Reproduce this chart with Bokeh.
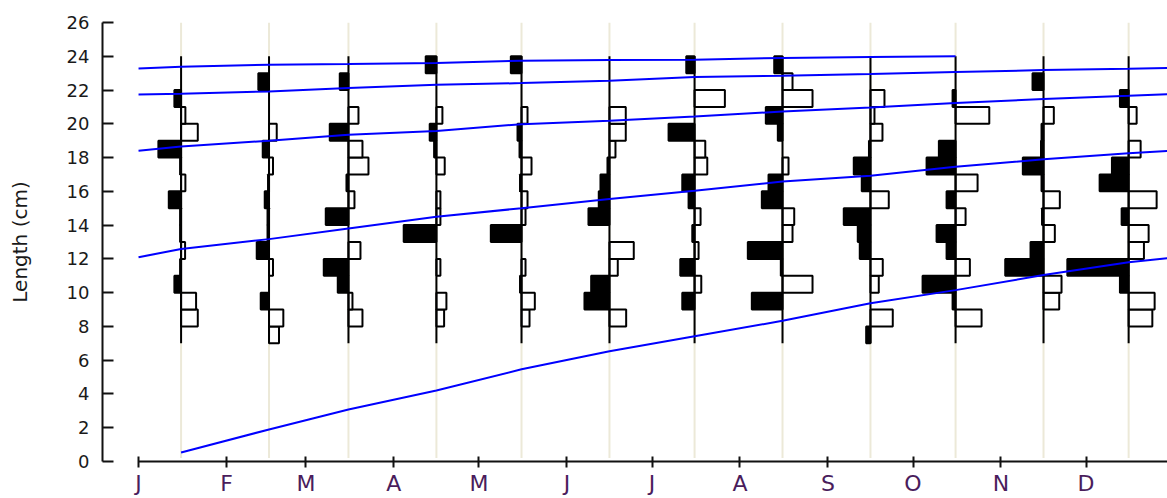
from bokeh.plotting import figure
from bokeh.models import FixedTicker, Range1d
from bokeh.embed import file_html
from bokeh.resources import INLINE

# ---------------- data ----------------
month_labels = ["J", "F", "M", "A", "M", "J", "J", "A", "S", "O", "N", "D"]
month_start_days = [0, 31, 59, 90, 120, 151, 181, 212, 243, 273, 304, 334]
sample_days = [15, 46, 74, 105, 135, 166, 196, 227, 258, 288, 319, 349]
length_ticks = list(range(0, 27, 2))
bin_lower = list(range(7, 24))          # 1-cm classes 7-8 ... 23-24

# restructured frequency scores per sample, classes from 7-8 up to 23-24
score_jan = [0, 1.67, 1.5, -0.67, -0.1, 0.4, -0.1, -0.1, -1.23, 0.43, -0.1, -2.27, 1.67, 0.43, -0.67, 0, 0]
score_feb = [1.0, 1.43, -0.83, 0, 0.4, -1.23, -0.15, -0.15, -0.43, -0.1, 0.4, -0.63, 0.77, 0, 0, -1.07, 0]
score_mar = [0, 1.4, 0.4, -1.07, -2.47, 1.2, 0, -2.27, 0.6, -0.2, 2.0, 1.4, -1.87, 1.0, 0, -0.87, 0]
score_apr = [0, 0.77, 1.0, 0, 0.4, 0, -3.27, 0.4, 0.4, 0, 0.83, -0.23, -0.67, 0.6, 0, 0, -1.07]
score_may = [0, 0.8, 1.33, -0.15, 0.4, 0, -3.07, 0.4, 0.6, -0.15, 1.0, -0.2, -0.4, 0.6, 0, 0, -1.07]
score_jun = [0, 1.67, -2.5, -1.83, 0.83, 2.43, 0, -2.1, -1.07, -0.9, -0.2, 0.6, 1.63, 1.63, 0, 0, 0]
score_jul = [0, 0, -1.23, 0.67, -1.43, 0.4, -0.23, 0.6, -0.6, -1.23, 1.27, 1.07, -2.6, 0, 3.03, 0, -0.83]
score_aug = [0, 0, -3.07, 3.0, -0.17, -3.47, 1.0, 1.17, -2.07, -1.4, 0.6, 0, -0.47, -1.67, 3.0, 1.0, -0.83]
score_sep = [-0.43, 2.23, 0, 0.83, 1.23, -1.07, -1.27, -2.67, 1.83, -0.87, -1.67, -0.15, 1.2, 0.4, 1.4, 0, 0]
score_oct = [0, 2.6, -0.3, -3.3, 1.43, -0.9, -1.9, 1.0, -0.9, 2.2, -2.9, -1.67, 0, 3.37, -0.3, 0, 0]
score_nov = [0, 0, 1.57, 1.8, -3.83, -1.3, 1.13, -0.15, 1.63, -0.2, -2.07, -0.25, -0.2, 1.03, 0, -1.1, 0]
score_dec = [0, 2.37, 2.6, -0.87, -6.13, 1.53, 2.0, -0.7, 2.8, -2.9, -1.67, 1.2, 0, 0.8, -0.87, 0, 0]
sample_scores = [score_jan, score_feb, score_mar, score_apr, score_may, score_jun,
                 score_jul, score_aug, score_sep, score_oct, score_nov, score_dec]

# growth curves (day of year, length cm)
curve1_days = [15, 46, 74, 105, 135, 166, 196, 227, 258, 288, 319, 349, 363]
curve1_len = [0.53, 1.9, 3.08, 4.2, 5.46, 6.53, 7.42, 8.33, 9.37, 10.15, 11.04, 11.8, 12.05]
curve_full_days = [0, 15, 46, 74, 105, 135, 166, 196, 227, 258, 288, 319, 349, 363]
curve2_len = [12.1, 12.58, 13.17, 13.8, 14.5, 15.0, 15.55, 16.04, 16.58, 16.93, 17.45, 17.9, 18.26, 18.4]
curve3_len = [18.4, 18.65, 19.0, 19.35, 19.58, 19.98, 20.18, 20.43, 20.73, 20.97, 21.23, 21.47, 21.66, 21.76]
curve4_len = [21.74, 21.78, 21.92, 22.12, 22.31, 22.41, 22.55, 22.77, 22.85, 22.95, 23.07, 23.18, 23.26, 23.3]
curve5_days = [0, 15, 46, 74, 105, 135, 166, 196, 227, 258, 288]
curve5_len = [23.28, 23.38, 23.5, 23.54, 23.6, 23.74, 23.78, 23.8, 23.9, 23.96, 24.0]

# ---------------- figure ----------------
DAYS_PER_SCORE = 3.525   # horizontal size of one score unit in days

p = figure(width=1167, height=498, output_backend="svg", toolbar_location=None,
           x_range=Range1d(-12.7, 362.7), y_range=Range1d(0, 26),
           min_border_left=102, min_border_right=0, min_border_top=22, min_border_bottom=37)
p.outline_line_color = None
p.xgrid.visible = False
p.ygrid.visible = False
p.background_fill_color = "white"

# light sample-date lines
p.segment(x0=sample_days, y0=[0.2] * len(sample_days), x1=sample_days, y1=[26] * len(sample_days),
          line_color="#ECE9D8", line_width=2)

# histogram bars
pl, pr, pb, pt = [], [], [], []
nl, nr, nb, nt = [], [], [], []
for day, scores in zip(sample_days, sample_scores):
    for lo, s in zip(bin_lower, scores):
        if s > 0:
            pl.append(day); pr.append(day + s * DAYS_PER_SCORE); pb.append(lo); pt.append(lo + 1)
        elif s < 0:
            nl.append(day + s * DAYS_PER_SCORE); nr.append(day); nb.append(lo); nt.append(lo + 1)
p.quad(left=pl, right=pr, bottom=pb, top=pt, fill_color="white", line_color="black", line_width=2)
p.quad(left=nl, right=nr, bottom=nb, top=nt, fill_color="black", line_color="black", line_width=2)

# base lines of histograms
p.segment(x0=sample_days, y0=[7] * len(sample_days), x1=sample_days, y1=[24] * len(sample_days),
          line_color="black", line_width=2)

# growth curves
for xs, ys in [(curve1_days, curve1_len), (curve_full_days, curve2_len), (curve_full_days, curve3_len),
               (curve_full_days, curve4_len), (curve5_days, curve5_len)]:
    p.line(xs, ys, line_color="#0000ff", line_width=2)

# axes
xa = p.xaxis[0]
xa.ticker = FixedTicker(ticks=month_start_days)
xa.major_label_overrides = {d: m for d, m in zip(month_start_days, month_labels)}
xa.bounds = (0, 362.7)
xa.minor_tick_line_color = None
xa.major_tick_in = 5
xa.major_tick_out = 6
xa.major_tick_line_width = 2
xa.axis_line_width = 2
xa.axis_line_color = "#111111"
xa.major_tick_line_color = "#111111"
xa.major_label_text_font = "DejaVu Sans"
xa.major_label_text_font_size = "22px"
xa.major_label_text_color = "#4a1d5c"
xa.major_label_standoff = 3

ya = p.yaxis[0]
ya.ticker = FixedTicker(ticks=length_ticks)
ya.minor_tick_line_color = None
ya.major_tick_in = 11
ya.major_tick_out = 0
ya.major_tick_line_width = 2
ya.axis_line_width = 2
ya.axis_line_color = "#111111"
ya.major_tick_line_color = "#111111"
ya.major_label_text_font = "DejaVu Sans"
ya.major_label_text_font_size = "18px"
ya.major_label_text_color = "#1a1a1a"
ya.major_label_standoff = 13
ya.axis_label = "Length (cm)"
ya.axis_label_text_font = "DejaVu Sans"
ya.axis_label_text_font_size = "20px"
ya.axis_label_text_font_style = "normal"
ya.axis_label_text_color = "#1a1a1a"
ya.axis_label_standoff = 32

open("out.html", "w").write(file_html(p, INLINE))
